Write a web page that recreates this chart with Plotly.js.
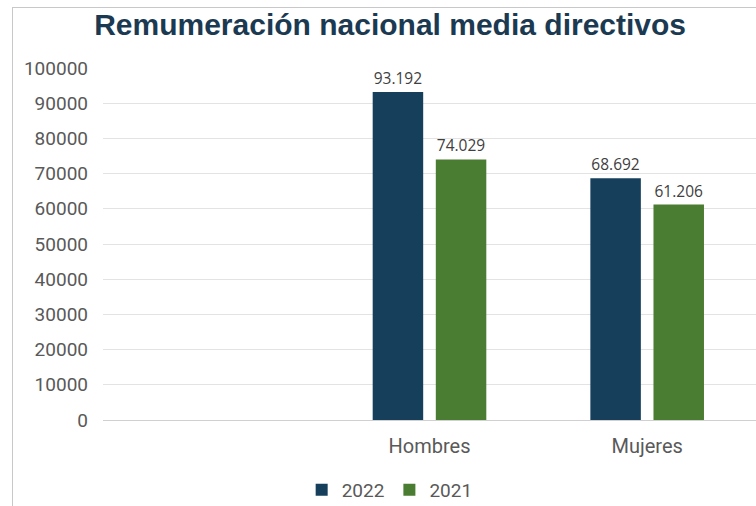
<!DOCTYPE html>
<html>
<head>
<meta charset="utf-8">
<script src="https://cdn.plot.ly/plotly-3.0.1.min.js"></script>
<style>
  html, body { margin: 0; padding: 0; background: #ffffff; }
  #wrap { position: relative; width: 756px; height: 506px; overflow: hidden; }
  #chart { position: absolute; left: 0; top: 0; width: 756px; height: 506px; }
  .bl { position: absolute; background: #c8c8c8; }
</style>
</head>
<body>
<div id="wrap">
  <div id="chart"></div>
  <div class="bl" style="left:12px; top:7px; width:744px; height:1px;"></div>
  <div class="bl" style="left:12px; top:7px; width:1px; height:499px;"></div>
</div>
<script>
const categories = ["", "Hombres", "Mujeres"];
const values2022 = [null, 93192, 68692];
const values2021 = [null, 74029, 61206];
const seriesNames = ["2022", "2021"];
const titleText = "Remumeración nacional media directivos";

const labelFont = { family: "Open Sans, Liberation Sans, sans-serif", size: 15.5, color: "#404040" };

const traces = [
  {
    type: "bar", name: seriesNames[0], x: categories, y: values2022,
    marker: { color: "#153f5b" },
    texttemplate: "%{y:,d}", textposition: "outside", cliponaxis: false,
    textfont: labelFont
  },
  {
    type: "bar", name: seriesNames[1], x: categories, y: values2021,
    marker: { color: "#4a7c31" },
    texttemplate: "%{y:,d}", textposition: "outside", cliponaxis: false,
    textfont: labelFont
  }
];

const layout = {
  width: 756, height: 506,
  margin: { l: 103, r: 0, t: 68, b: 86, autoexpand: false },
  paper_bgcolor: "#ffffff", plot_bgcolor: "#ffffff",
  separators: ",.",
  barmode: "group", bargap: 0.42, bargroupgap: 0.2,
  title: {
    text: "<b>" + titleText + "</b>",
    font: { family: "Liberation Sans, Arial, sans-serif", size: 30, color: "#1b3a52" },
    x: 0.516, xanchor: "center", y: 0.952, yanchor: "middle"
  },
  xaxis: {
    type: "category", range: [-0.5, 2.5], automargin: false,
    showgrid: false, showline: false, zeroline: false,
    ticks: "", ticklabelstandoff: 12,
    tickfont: { family: "Roboto, Liberation Sans, sans-serif", size: 20, color: "#595959" }
  },
  yaxis: {
    range: [0, 100000], dtick: 10000, tick0: 0, tickformat: "d", automargin: false,
    showgrid: true, gridcolor: "#e3e3e3", gridwidth: 1,
    zeroline: true, zerolinecolor: "#d0d0d0", zerolinewidth: 1,
    showline: false, ticks: "", ticklabelstandoff: 14,
    tickfont: { family: "Roboto, Liberation Sans, sans-serif", size: 19, color: "#595959" }
  },
  showlegend: true,
  legend: {
    orientation: "h", x: 0.439, xanchor: "center",
    yref: "container", y: 0.032, yanchor: "middle",
    font: { family: "Roboto, Liberation Sans, sans-serif", size: 19, color: "#595959" },
    itemwidth: 30, tracegroupgap: 0
  }
};

Plotly.newPlot("chart", traces, layout, { displayModeBar: false, staticPlot: true });
</script>
</body>
</html>
